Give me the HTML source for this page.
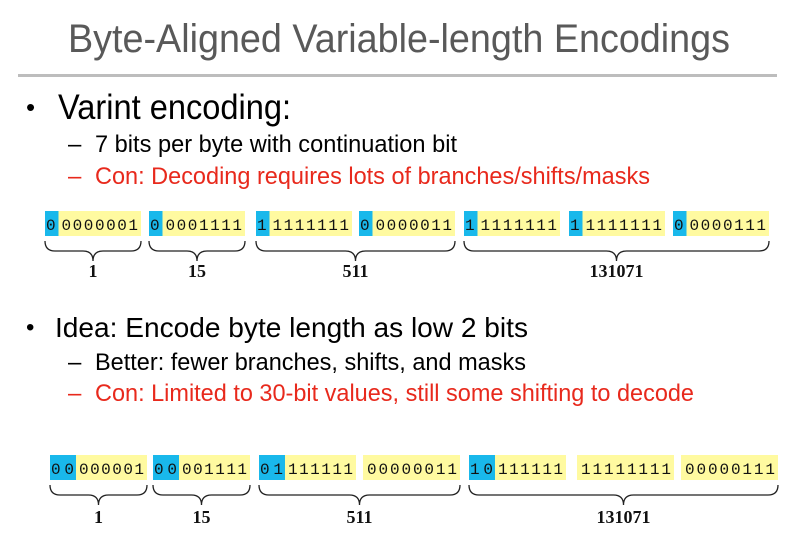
<!DOCTYPE html>
<html><head><meta charset="utf-8"><style>
html,body{margin:0;padding:0;background:#fff;}
svg{display:block;}
.t{font-family:"Liberation Sans",Arial,sans-serif;}
.m{font-family:"Liberation Mono","DejaVu Sans Mono",monospace;font-size:16px;fill:#111;}
.l{font-family:"Liberation Serif",serif;font-weight:bold;font-size:18px;fill:#111;}
</style></head><body>
<svg id="s" width="803" height="546" viewBox="0 0 803 546" xmlns="http://www.w3.org/2000/svg">
<text class="t" x="68" y="52" font-size="40" fill="#595959" textLength="662" lengthAdjust="spacingAndGlyphs">Byte-Aligned Variable-length Encodings</text>
<rect x="18" y="74" width="759" height="3" fill="#bdbdbd"/>
<text class="t" x="26" y="116" font-size="26" fill="#000">•</text>
<text class="t" x="58" y="119" font-size="35" fill="#000" textLength="233" lengthAdjust="spacingAndGlyphs">Varint encoding:</text>
<text class="t" x="68" y="152" font-size="24" fill="#000">–</text>
<text class="t" x="95" y="152" font-size="24" fill="#000" textLength="362" lengthAdjust="spacingAndGlyphs">7 bits per byte with continuation bit</text>
<text class="t" x="68" y="184" font-size="24" fill="#e8291c">–</text>
<text class="t" x="95" y="184" font-size="24" fill="#e8291c" textLength="555" lengthAdjust="spacingAndGlyphs">Con: Decoding requires lots of branches/shifts/masks</text>
<text class="t" x="26" y="335" font-size="24" fill="#000">•</text>
<text class="t" x="55" y="337" font-size="28" fill="#000" textLength="473" lengthAdjust="spacingAndGlyphs">Idea: Encode byte length as low 2 bits</text>
<text class="t" x="68" y="370" font-size="24" fill="#000">–</text>
<text class="t" x="95" y="370" font-size="24" fill="#000" textLength="431" lengthAdjust="spacingAndGlyphs">Better: fewer branches, shifts, and masks</text>
<text class="t" x="68" y="401" font-size="24" fill="#e8291c">–</text>
<text class="t" x="95" y="401" font-size="24" fill="#e8291c" textLength="599" lengthAdjust="spacingAndGlyphs">Con: Limited to 30-bit values, still some shifting to decode</text>
<g id="g1"></g><g id="g2"></g>
</svg>
<script>
const row1Bytes=["00000001","00001111","11111111","00000011","11111111","11111111","00000111"];
const row1X=[45,149,256,359,464,569,673];
const row2Bytes=["00000001","00001111","01111111","00000011","10111111","11111111","00000111"];
const row2X=[50,153,259,363,469,577,681];
const row2Tag=[true,true,true,false,true,false,false];
const groupLabels=["1","15","511","131071"];
const groups=[[0,0],[1,1],[2,3],[4,6]];
const NS="http://www.w3.org/2000/svg";
function mk(p,tag,at){const e=document.createElementNS(NS,tag);for(const k in at)e.setAttribute(k,at[k]);p.appendChild(e);return e;}
function brace(p,x1,x2,y,h){const m=(x1+x2)/2;
 const d=`M${x1},${y} Q${x1},${y+h/2} ${x1+10},${y+h/2} L${m-10},${y+h/2} Q${m},${y+h/2} ${m},${y+h} Q${m},${y+h/2} ${m+10},${y+h/2} L${x2-10},${y+h/2} Q${x2},${y+h/2} ${x2},${y}`;
 const e=mk(p,'path',{d:d,fill:'none',stroke:'#222','stroke-width':1.3});
 
 }
function drawRow(gid,bytes,xs,tagBits,top,bh,bw,labY,tagFn){
 const g=document.getElementById(gid);
 bytes.forEach((b,i)=>{
  const x=xs[i];const tagged=tagFn(i);
  const r=mk(g,'rect',{x:x,y:top,width:bw,height:bh,fill:'#fffaa0'});
  
  
  if(tagged){
   const bl=mk(g,'rect',{x:x,y:top,width:tagBits*12.5+1,height:bh,fill:'#19b8eb'});
   
   
   const t1=mk(g,'text',{x:x+1,y:top+bh-6,class:'m',textLength:tagBits*12.5-2,lengthAdjust:'spacing'});t1.textContent=b.slice(0,tagBits);
   
   
   const t2=mk(g,'text',{x:x+tagBits*12.5+4,y:top+bh-6,class:'m',textLength:bw-tagBits*12.5-7,lengthAdjust:'spacing'});t2.textContent=b.slice(tagBits);
   
   
  } else {
   const t2=mk(g,'text',{x:x+4,y:top+bh-6,class:'m',textLength:bw-7,lengthAdjust:'spacing'});t2.textContent=b;
   
   
  }
 });
 groups.forEach((gr,k)=>{const x1=xs[gr[0]],x2=xs[gr[1]]+bw;brace(g,x1,x2,top+bh+5,20);
  const lt=mk(g,'text',{x:(x1+x2)/2,y:labY,'text-anchor':'middle',class:'l'});lt.textContent=groupLabels[k];
  
  });
}
drawRow('g1',row1Bytes,row1X,1,211,25,96,277,i=>true);
drawRow('g2',row2Bytes,row2X,2,455,25,97,523,i=>row2Tag[i]);
</script>
</body></html>
